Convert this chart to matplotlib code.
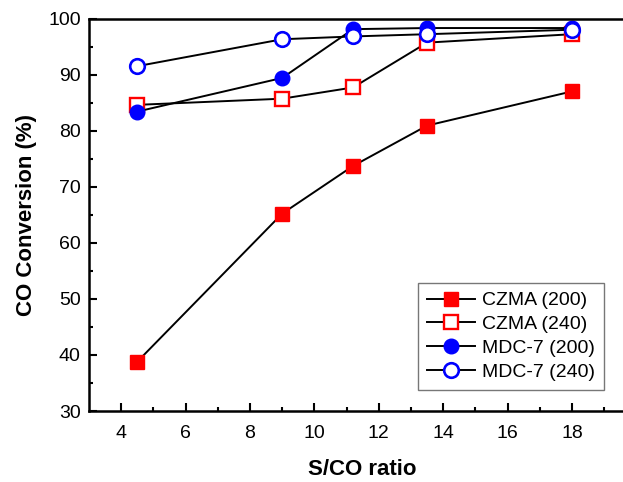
import matplotlib
matplotlib.use("Agg")
import matplotlib.pyplot as plt
from matplotlib.ticker import MultipleLocator, FixedLocator

plt.rcParams['font.family'] = ['Liberation Sans', 'DejaVu Sans']

x = [4.5, 9, 11.2, 13.5, 18]
czma_200 = [38.8, 65.2, 73.7, 80.9, 87.0]
czma_240 = [84.6, 85.7, 87.7, 95.7, 97.2]
mdc7_200 = [83.4, 89.4, 98.1, 98.3, 98.3]
mdc7_240 = [91.5, 96.3, 96.8, 97.2, 98.0]
labels = ['CZMA (200)', 'CZMA (240)', 'MDC-7 (200)', 'MDC-7 (240)']
xticks = [4, 6, 8, 10, 12, 14, 16, 18]
yticks = [30, 40, 50, 60, 70, 80, 90, 100]

fig = plt.figure(figsize=(6.23, 4.82), dpi=100)
ax = fig.add_axes([89/623, 1 - 411/482, (636.4 - 89)/623, (411 - 18.5)/482])

lw = 1.4
ax.plot(x, czma_200, color='black', lw=lw, marker='s', ms=9.5, mfc='red', mec='red', label=labels[0])
ax.plot(x, czma_240, color='black', lw=lw, marker='s', ms=9.5, mfc='white', mec='red', mew=1.7, label=labels[1])
ax.plot(x, mdc7_200, color='black', lw=lw, marker='o', ms=10.5, mfc='blue', mec='blue', label=labels[2])
ax.plot(x, mdc7_240, color='black', lw=lw, marker='o', ms=10.5, mfc='white', mec='blue', mew=1.9, label=labels[3])

ax.set_xlim(3, 20)
ax.set_ylim(30, 100)
ax.xaxis.set_major_locator(FixedLocator(xticks))
ax.xaxis.set_minor_locator(FixedLocator([5, 7, 9, 11, 13, 15, 17, 19]))
ax.yaxis.set_major_locator(FixedLocator(yticks))
ax.yaxis.set_minor_locator(MultipleLocator(5))
ax.tick_params(which='both', direction='in', width=1.5, labelsize=14)
ax.tick_params(which='major', length=6)
ax.tick_params(which='minor', length=3)
ax.tick_params(axis='x', pad=10)
ax.tick_params(axis='y', pad=6)
for s in ax.spines.values():
    s.set_linewidth(1.8)

ax.set_xlabel('S/CO ratio', fontsize=16, fontweight='bold', labelpad=12)
ax.set_ylabel('CO Conversion (%)', fontsize=16, fontweight='bold', labelpad=8)

leg = ax.legend(loc='upper left', bbox_to_anchor=((418 - 89) / 547.4, (411 - 283) / 392.5),
                fontsize=14, frameon=True, fancybox=False, handlelength=2.5,
                handletextpad=0.35, borderpad=0.45, labelspacing=0.32, borderaxespad=0)
leg.get_frame().set_edgecolor('#555555')
leg.get_frame().set_linewidth(1.0)

fig.savefig('out.png', dpi=100)
